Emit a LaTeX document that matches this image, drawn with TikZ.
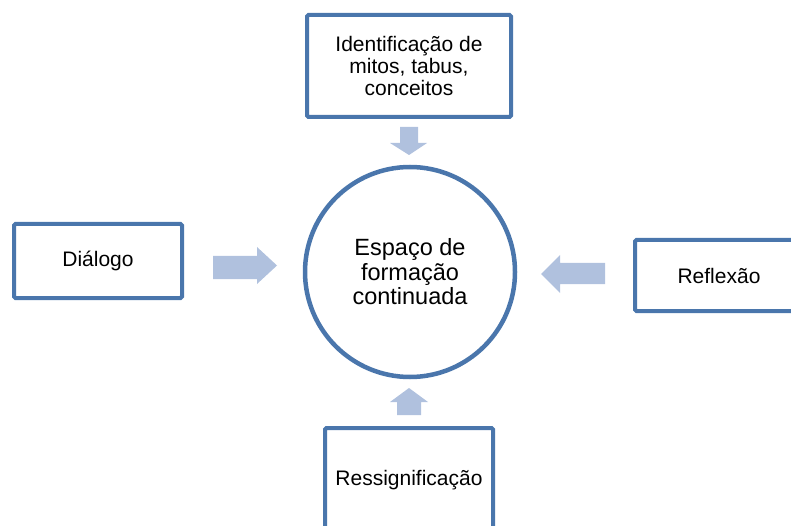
\documentclass[tikz,border=0pt]{standalone}
\usepackage{fontspec}
\setmainfont{Liberation Sans}
\definecolor{bordblue}{RGB}{74,118,172}
\definecolor{arrblue}{RGB}{176,193,222}
\tikzset{
  boxnode/.style={draw=bordblue, line width=4pt, rounded corners=1.5pt, fill=white,
    align=center, inner sep=0pt, font=\fontsize{21}{21.7}\selectfont},
  circnode/.style={draw=bordblue, line width=4.5pt, circle, fill=white, align=center,
    inner sep=0pt, minimum size=210pt, font=\fontsize{23.5}{24.5}\selectfont},
  blockarrow/.style={fill=arrblue, draw=none}
}
\begin{document}
\begin{tikzpicture}[x=1pt,y=-1pt]
\useasboundingbox (0,0) rectangle (791,526);
\clip (0,0) rectangle (791,526);
\node[circnode] (center) at (410,272) {Espaço de\\formação\\continuada};
\node[boxnode, minimum width=204pt, minimum height=102pt] (top) at (409,66) {Identificação de\\mitos, tabus,\\conceitos};
\node[boxnode, minimum width=168pt, minimum height=74pt] (left) at (98,261) {Diálogo};
\node[boxnode, minimum width=168pt, minimum height=71pt] (right) at (719,275.5) {Reflexão};
\node[boxnode, minimum width=168pt, minimum height=104pt] (bottom) at (409,480) {Ressignificação};
% block arrows
\coordinate (ta) at (409,127);
\fill[blockarrow] (ta) ++(-9,0) -- ++(18,0) -- ++(0,16) -- ++(9,0) -- (409,155) -- (390,143) -- (400,143) -- cycle;
\coordinate (la) at (213,256);
\fill[blockarrow] (la) -- (257,256) -- (257,247) -- (277,265.5) -- (257,284) -- (257,279) -- (213,279) -- cycle;
\coordinate (ra) at (605,263);
\fill[blockarrow] (ra) -- (560,263) -- (560,255) -- (541,274) -- (560,293) -- (560,284) -- (605,284) -- cycle;
\coordinate (ba) at (397,415);
\fill[blockarrow] (ba) -- (397,402) -- (390,402) -- (409,388) -- (428,402) -- (421,402) -- (421,415) -- cycle;
\end{tikzpicture}
\end{document}
